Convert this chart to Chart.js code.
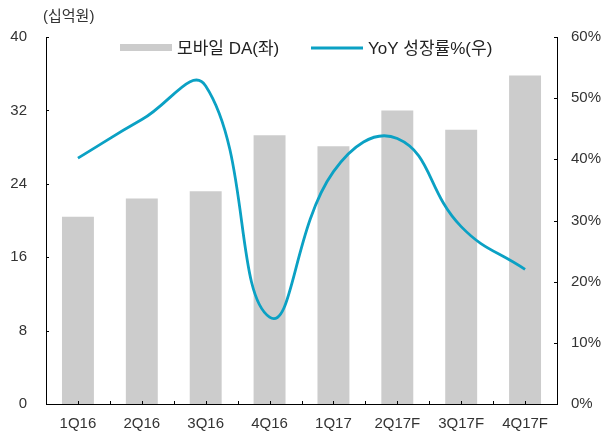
<!DOCTYPE html>
<html>
<head>
<meta charset="utf-8">
<script src="https://cdn.jsdelivr.net/npm/chart.js@4"></script>
<style>
  html, body { margin: 0; padding: 0; background: #fff; }
  #wrap { position: relative; width: 603px; height: 435px; }
</style>
</head>
<body>
<div id="wrap"><canvas id="daChart" width="603" height="435"></canvas></div>
<script>
const quarterLabels = ["1Q16", "2Q16", "3Q16", "4Q16", "1Q17", "2Q17F", "3Q17F", "4Q17F"];
const mobileDA = [20.4, 22.4, 23.2, 29.3, 28.1, 32.0, 29.9, 35.8];
const yoyGrowth = [40.2, 46.5, 52.0, 14.2, 38.0, 43.4, 29.0, 22.0];
const leftTicks = [0, 8, 16, 24, 32, 40];
const rightTicks = [0, 10, 20, 30, 40, 50, 60];

const FONT = '"Liberation Sans", "Noto Sans CJK KR", sans-serif';
const barColor = "#cccccc";
const lineColor = "#0ba1c4";

// legend, unit label and the small inward tick marks
const decor = {
  id: "decor",
  afterDraw(chart) {
    const ctx = chart.ctx;
    const area = chart.chartArea;
    ctx.save();
    ctx.fillStyle = "#333";
    ctx.font = "15px " + FONT;
    ctx.textBaseline = "middle";
    ctx.textAlign = "left";
    ctx.fillText("(십억원)", 43, 17);

    // legend
    const ly = area.top + 11;
    const lx = area.left;
    ctx.font = "17px " + FONT;
    ctx.fillStyle = barColor;
    ctx.fillRect(lx + 74, ly - 4, 52, 7);
    ctx.fillStyle = "#222";
    ctx.fillText(chart.data.datasets[0].label, lx + 131, ly + 1);
    ctx.strokeStyle = lineColor;
    ctx.lineWidth = 3;
    ctx.beginPath();
    ctx.moveTo(lx + 265, ly);
    ctx.lineTo(lx + 317, ly);
    ctx.stroke();
    ctx.fillStyle = "#222";
    ctx.fillText(chart.data.datasets[1].label, lx + 322, ly + 1);

    // inward ticks
    ctx.strokeStyle = "#000";
    ctx.lineWidth = 1;
    ctx.beginPath();
    const y = chart.scales.y, y1 = chart.scales.y1;
    leftTicks.forEach(v => {
      const py = Math.round(y.getPixelForValue(v)) + 0.5;
      ctx.moveTo(area.left, py); ctx.lineTo(area.left + 3, py);
    });
    rightTicks.forEach(v => {
      const py = Math.round(y1.getPixelForValue(v)) + 0.5;
      ctx.moveTo(area.right, py); ctx.lineTo(area.right - 3, py);
    });
    const step = (area.right - area.left) / quarterLabels.length;
    for (let i = 0; i <= quarterLabels.length * 2; i++) {
      const px = Math.round(area.left + i * step / 2) + 0.5;
      ctx.moveTo(px, area.bottom); ctx.lineTo(px, area.bottom - 3);
    }
    ctx.stroke();
    ctx.restore();
  }
};

new Chart(document.getElementById("daChart"), {
  type: "bar",
  data: {
    labels: quarterLabels,
    datasets: [
      {
        label: "모바일 DA(좌)",
        data: mobileDA,
        backgroundColor: barColor,
        yAxisID: "y",
        barPercentage: 0.5,
        categoryPercentage: 1,
        order: 1
      },
      {
        type: "line",
        label: "YoY 성장률%(우)",
        data: yoyGrowth,
        borderColor: lineColor,
        borderWidth: 2.8,
        pointRadius: 0,
        tension: 0.45,
        yAxisID: "y1",
        order: 0
      }
    ]
  },
  options: {
    responsive: false,
    animation: false,
    layout: { padding: { top: 37, left: 0, right: 0, bottom: 0 } },
    plugins: { legend: { display: false }, tooltip: { enabled: false } },
    scales: {
      x: {
        grid: { display: false, drawTicks: false },
        border: { display: true, color: "#000", width: 1 },
        ticks: { color: "#333", font: { family: FONT, size: 15 }, padding: 11 },
        afterFit(s) { s.height = 31; }
      },
      y: {
        position: "left",
        min: 0, max: 40,
        grid: { display: false, drawTicks: false },
        border: { display: true, color: "#000", width: 1 },
        ticks: { stepSize: 8, color: "#333", font: { family: FONT, size: 15 }, padding: 19 },
        afterFit(s) { s.width = 46; }
      },
      y1: {
        position: "right",
        min: 0, max: 60,
        grid: { display: false, drawTicks: false },
        border: { display: true, color: "#000", width: 1 },
        ticks: { stepSize: 10, color: "#333", font: { family: FONT, size: 15 }, padding: 14,
                 callback: v => v + "%" },
        afterFit(s) { s.width = 46; }
      }
    }
  },
  plugins: [decor]
});
</script>
</body>
</html>
